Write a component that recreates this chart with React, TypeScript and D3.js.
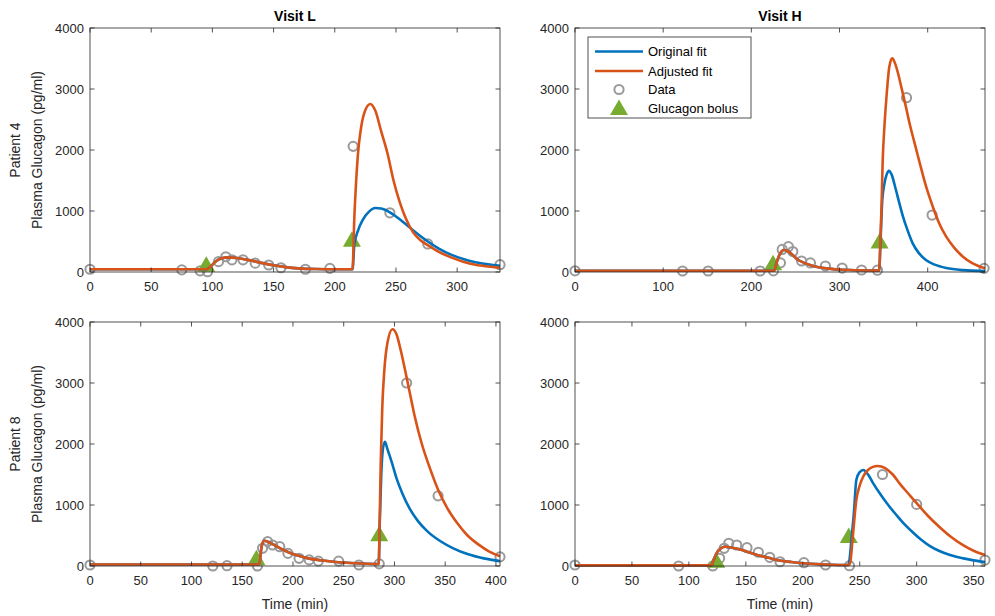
import React from 'react'
import * as d3 from 'd3'

const width = 995
const height = 616
const panelW = 410
const panelH = 244
const blue = '#0072BD'
const orange = '#D95319'
const green = '#77AC30'
const grey = '#9a9a9a'
const axisColor = '#262626'
const font = '"Liberation Sans", Arial, sans-serif'

// Patient 4, Visit L
const p4L_orig = [[0,45],[60,45],[95,45],[98,80],[102,160],[107,220],[113,240],[120,230],[130,195],[140,150],[150,110],[160,80],[170,60],[185,48],[200,45],[214.5,45],[216,450],[219,680],[223,860],[228,990],[233,1050],[238,1040],[244,990],[252,880],[260,750],[268,620],[276,500],[285,385],[295,285],[305,212],[315,160],[325,125],[335,100]]
const p4L_adj = [[0,45],[60,45],[95,45],[98,80],[102,160],[107,220],[113,240],[120,230],[130,195],[140,150],[150,110],[160,80],[170,60],[185,48],[200,45],[214.5,45],[216,900],[217.5,1500],[219,1950],[221,2300],[224,2600],[229,2754],[233,2650],[238,2300],[243,1950],[248,1500],[253,1150],[258,880],[264,650],[270,520],[276,440],[285,330],[295,240],[305,170],[315,120],[325,90],[335,70]]
const p4L_dataT = [0,75,90,96,105,111,116,125,135,146,156,176,196,215,245,276,335]
const p4L_dataV = [45,35,20,5,170,250,200,200,145,115,70,45,60,2060,970,460,120]
const p4L_bolusT = [95,214]
const p4L_bolusV = [120,530]

// Patient 4, Visit H
const p4H_orig = [[0,20],[100,20],[200,20],[226,20],[228,120],[231,250],[234,330],[237,360],[241,345],[246,290],[252,210],[260,150],[270,100],[285,60],[300,40],[320,28],[345,22],[346.5,500],[348.5,1180],[351,1454],[353.5,1600],[356,1661],[359,1600],[364,1344],[368,1120],[372,907],[377,690],[383,470],[390,310],[398,197],[408,120],[421,65],[440,30],[465,15]]
const p4H_adj = [[0,20],[100,20],[200,20],[226,20],[228,120],[231,250],[234,330],[237,360],[241,345],[246,290],[252,210],[260,150],[270,100],[285,60],[300,40],[320,28],[345,22],[346.5,600],[347.5,1000],[349,1836],[351,2400],[353,2820],[356.5,3366],[359.8,3503],[363,3420],[366.5,3250],[370,3038],[374.5,2760],[379,2464],[385,2120],[390.6,1808],[398,1410],[405.8,1070],[413,800],[421,579],[430,400],[440,251],[450,150],[465,60]]
const p4H_dataT = [0,122,151,210,225,233,235,242,247,257,267,284,303,325,343,376,405,464]
const p4H_dataV = [20,16,16,16,20,150,370,415,335,180,148,98,65,33,30,2857,934,60]
const p4H_bolusT = [224.6,345.4]
const p4H_bolusV = [142,500]

// Patient 8, Visit L
const p8L_orig = [[0,25],[80,25],[160,25],[167,25],[168.5,250],[170,380],[172,415],[176,390],[182,340],[188,285],[195,230],[204,175],[215,125],[227,95],[240,70],[253,54],[268,40],[284.5,33],[285.5,700],[287,1500],[288.5,1900],[290.6,2038],[293,1920],[297,1720],[302,1440],[308,1180],[315,940],[323,740],[333,560],[345,410],[358,290],[372,195],[388,125],[404,80]]
const p8L_adj = [[0,25],[80,25],[160,25],[167,25],[168.5,250],[170,380],[172,415],[176,390],[182,340],[188,285],[195,230],[204,175],[215,125],[227,95],[240,70],[253,54],[268,40],[284.5,33],[285.5,800],[286.5,1700],[288,2600],[290,3200],[293,3650],[298,3880],[302,3800],[306,3550],[310,3250],[315,2850],[320,2450],[327,2000],[335,1600],[343,1250],[352,950],[362,700],[372,500],[383,350],[393,240],[404,160]]
const p8L_dataT = [0,121,135,165,170,175,180,187,195,206,216,225,245,265,285,312,343,404]
const p8L_dataV = [16,0,5,0,290,400,344,316,208,126,100,80,80,16,35,3000,1150,150]
const p8L_bolusT = [164,285]
const p8L_bolusV = [126,520]

// Patient 8, Visit H
const p8H_orig = [[0,10],[60,10],[120,10],[121,60],[124,200],[128,290],[132,316],[138,300],[145,270],[151,235],[160,180],[170,135],[177,100],[190,65],[200,44],[220,25],[240,16],[241,100],[242.7,426],[245,900],[247,1410],[250,1540],[253,1574],[258,1480],[262,1350],[268,1180],[275,1000],[282,840],[289,690],[297,545],[304,430],[311,335],[320,245],[330,175],[341,125],[350,92],[360,65]]
const p8H_adj = [[0,10],[60,10],[120,10],[121,60],[124,200],[128,290],[132,316],[138,300],[145,270],[151,235],[160,180],[170,135],[177,100],[190,65],[200,44],[220,25],[240,16],[241.5,44],[244,500],[247,1082],[250,1320],[253,1464],[257,1570],[261,1620],[266,1640],[272,1610],[279,1500],[286,1330],[293,1180],[300,1030],[310,820],[320,640],[330,480],[340,350],[350,250],[360,180]]
const p8H_dataT = [0,91,121,127,131,135,142,151,161,171,180,201,220,241,270,300,360]
const p8H_dataV = [16,0,0,126,290,372,344,300,225,143,70,54,16,5,1500,1010,98]
const p8H_bolusT = [124,240.4]
const p8H_bolusV = [85,490]

const yTicks = [0, 1000, 2000, 3000, 4000]

const panels = [
    { left: 90, top: 28, xMax: 335, xTicks: d3.range(0, 301, 50), title: 'Visit L', patient: 'Patient 4', orig: p4L_orig, adj: p4L_adj, dataT: p4L_dataT, dataV: p4L_dataV, bolusT: p4L_bolusT, bolusV: p4L_bolusV },
    { left: 575, top: 28, xMax: 465, xTicks: d3.range(0, 401, 100), title: 'Visit H', legend: true, orig: p4H_orig, adj: p4H_adj, dataT: p4H_dataT, dataV: p4H_dataV, bolusT: p4H_bolusT, bolusV: p4H_bolusV },
    { left: 90, top: 322, xMax: 404, xTicks: d3.range(0, 401, 50), patient: 'Patient 8', xLabel: true, orig: p8L_orig, adj: p8L_adj, dataT: p8L_dataT, dataV: p8L_dataV, bolusT: p8L_bolusT, bolusV: p8L_bolusV },
    { left: 575, top: 322, xMax: 360, xTicks: d3.range(0, 351, 50), xLabel: true, orig: p8H_orig, adj: p8H_adj, dataT: p8H_dataT, dataV: p8H_dataV, bolusT: p8H_bolusT, bolusV: p8H_bolusV },
]

const triangle = (cx, cy) => `M${cx - 9},${cy + 7} L${cx + 9},${cy + 7} L${cx},${cy - 8.5} Z`

const Panel = ({ p }) => {
    const x = d3.scaleLinear().domain([0, p.xMax]).range([0, panelW])
    const y = d3.scaleLinear().domain([0, 4000]).range([panelH, 0])
    const line = d3
        .line()
        .x((d) => x(d[0]))
        .y((d) => y(d[1]))
        .curve(d3.curveMonotoneX)
    const tick = 4.5

    return (
        <g transform={`translate(${p.left},${p.top})`} fontFamily={font}>
            <defs>
                <clipPath id={`clip-${p.left}-${p.top}`}>
                    <rect x={-10} y={-10} width={panelW + 20} height={panelH + 20} />
                </clipPath>
            </defs>
            <rect width={panelW} height={panelH} fill="#fff" />
            {/* data + boluses underneath the fits */}
            <g clipPath={`url(#clip-${p.left}-${p.top})`}>
                {p.dataT.map((t, i) => (
                    <circle key={i} cx={x(t)} cy={y(p.dataV[i])} r={4.6} fill="none" stroke={grey} strokeWidth={2} />
                ))}
                {p.bolusT.map((t, i) => (
                    <path key={i} d={triangle(x(t), y(p.bolusV[i]))} fill={green} />
                ))}
                <path d={line(p.orig)} fill="none" stroke={blue} strokeWidth={2.6} strokeLinejoin="round" />
                <path d={line(p.adj)} fill="none" stroke={orange} strokeWidth={2.6} strokeLinejoin="round" />
            </g>
            {/* box + ticks */}
            <rect width={panelW} height={panelH} fill="none" stroke={axisColor} strokeWidth={0.8} />
            {p.xTicks.map((t) => (
                <g key={t}>
                    <line x1={x(t)} x2={x(t)} y1={panelH} y2={panelH - tick} stroke={axisColor} strokeWidth={0.8} />
                    <line x1={x(t)} x2={x(t)} y1={0} y2={tick} stroke={axisColor} strokeWidth={0.8} />
                    <text x={x(t)} y={panelH + 19} textAnchor="middle" fontSize={13} fill={axisColor}>
                        {t}
                    </text>
                </g>
            ))}
            {yTicks.map((v) => (
                <g key={v}>
                    <line x1={0} x2={tick} y1={y(v)} y2={y(v)} stroke={axisColor} strokeWidth={0.8} />
                    <line x1={panelW} x2={panelW - tick} y1={y(v)} y2={y(v)} stroke={axisColor} strokeWidth={0.8} />
                    <text x={-6} y={y(v) + 4.5} textAnchor="end" fontSize={13} fill={axisColor}>
                        {v}
                    </text>
                </g>
            ))}
            {p.title && (
                <text x={panelW / 2} y={-7} textAnchor="middle" fontSize={14} fontWeight="bold" fill="#000">
                    {p.title}
                </text>
            )}
            {p.xLabel && (
                <text x={panelW / 2} y={panelH + 43} textAnchor="middle" fontSize={14} fill={axisColor}>
                    Time (min)
                </text>
            )}
            {p.patient && (
                <g transform={`translate(${-p.left},${panelH / 2})`}>
                    <text transform="translate(20,0) rotate(-90)" textAnchor="middle" fontSize={14} fill={axisColor}>
                        {p.patient}
                    </text>
                    <text transform="translate(42,0) rotate(-90)" textAnchor="middle" fontSize={14} fill={axisColor}>
                        Plasma Glucagon (pg/ml)
                    </text>
                </g>
            )}
            {p.legend && <Legend />}
        </g>
    )
}

const Legend = () => {
    const rows = [51.5, 71, 89.5, 108].map((r) => r - 28)
    const lx = 13
    return (
        <g transform={`translate(${lx},0)`} fontSize={13} fill="#000">
            <rect x={0} y={9} width={163} height={81} fill="#fff" stroke={axisColor} strokeWidth={0.8} />
            <line x1={7} x2={55} y1={rows[0]} y2={rows[0]} stroke={blue} strokeWidth={2.6} />
            <line x1={7} x2={55} y1={rows[1]} y2={rows[1]} stroke={orange} strokeWidth={2.6} />
            <circle cx={31} cy={rows[2]} r={4.6} fill="none" stroke={grey} strokeWidth={2} />
            <path d={triangle(31, rows[3])} fill={green} />
            <text x={60} y={rows[0] + 4.5}>Original fit</text>
            <text x={60} y={rows[1] + 4.5}>Adjusted fit</text>
            <text x={60} y={rows[2] + 4.5}>Data</text>
            <text x={60} y={rows[3] + 4.5}>Glucagon bolus</text>
        </g>
    )
}

export default function App() {
    return (
        <svg width={width} height={height} style={{ display: 'block', position: 'absolute', left: 0, top: 0, background: '#fff' }}>
            {panels.map((p, i) => (
                <Panel key={i} p={p} />
            ))}
        </svg>
    )
}
